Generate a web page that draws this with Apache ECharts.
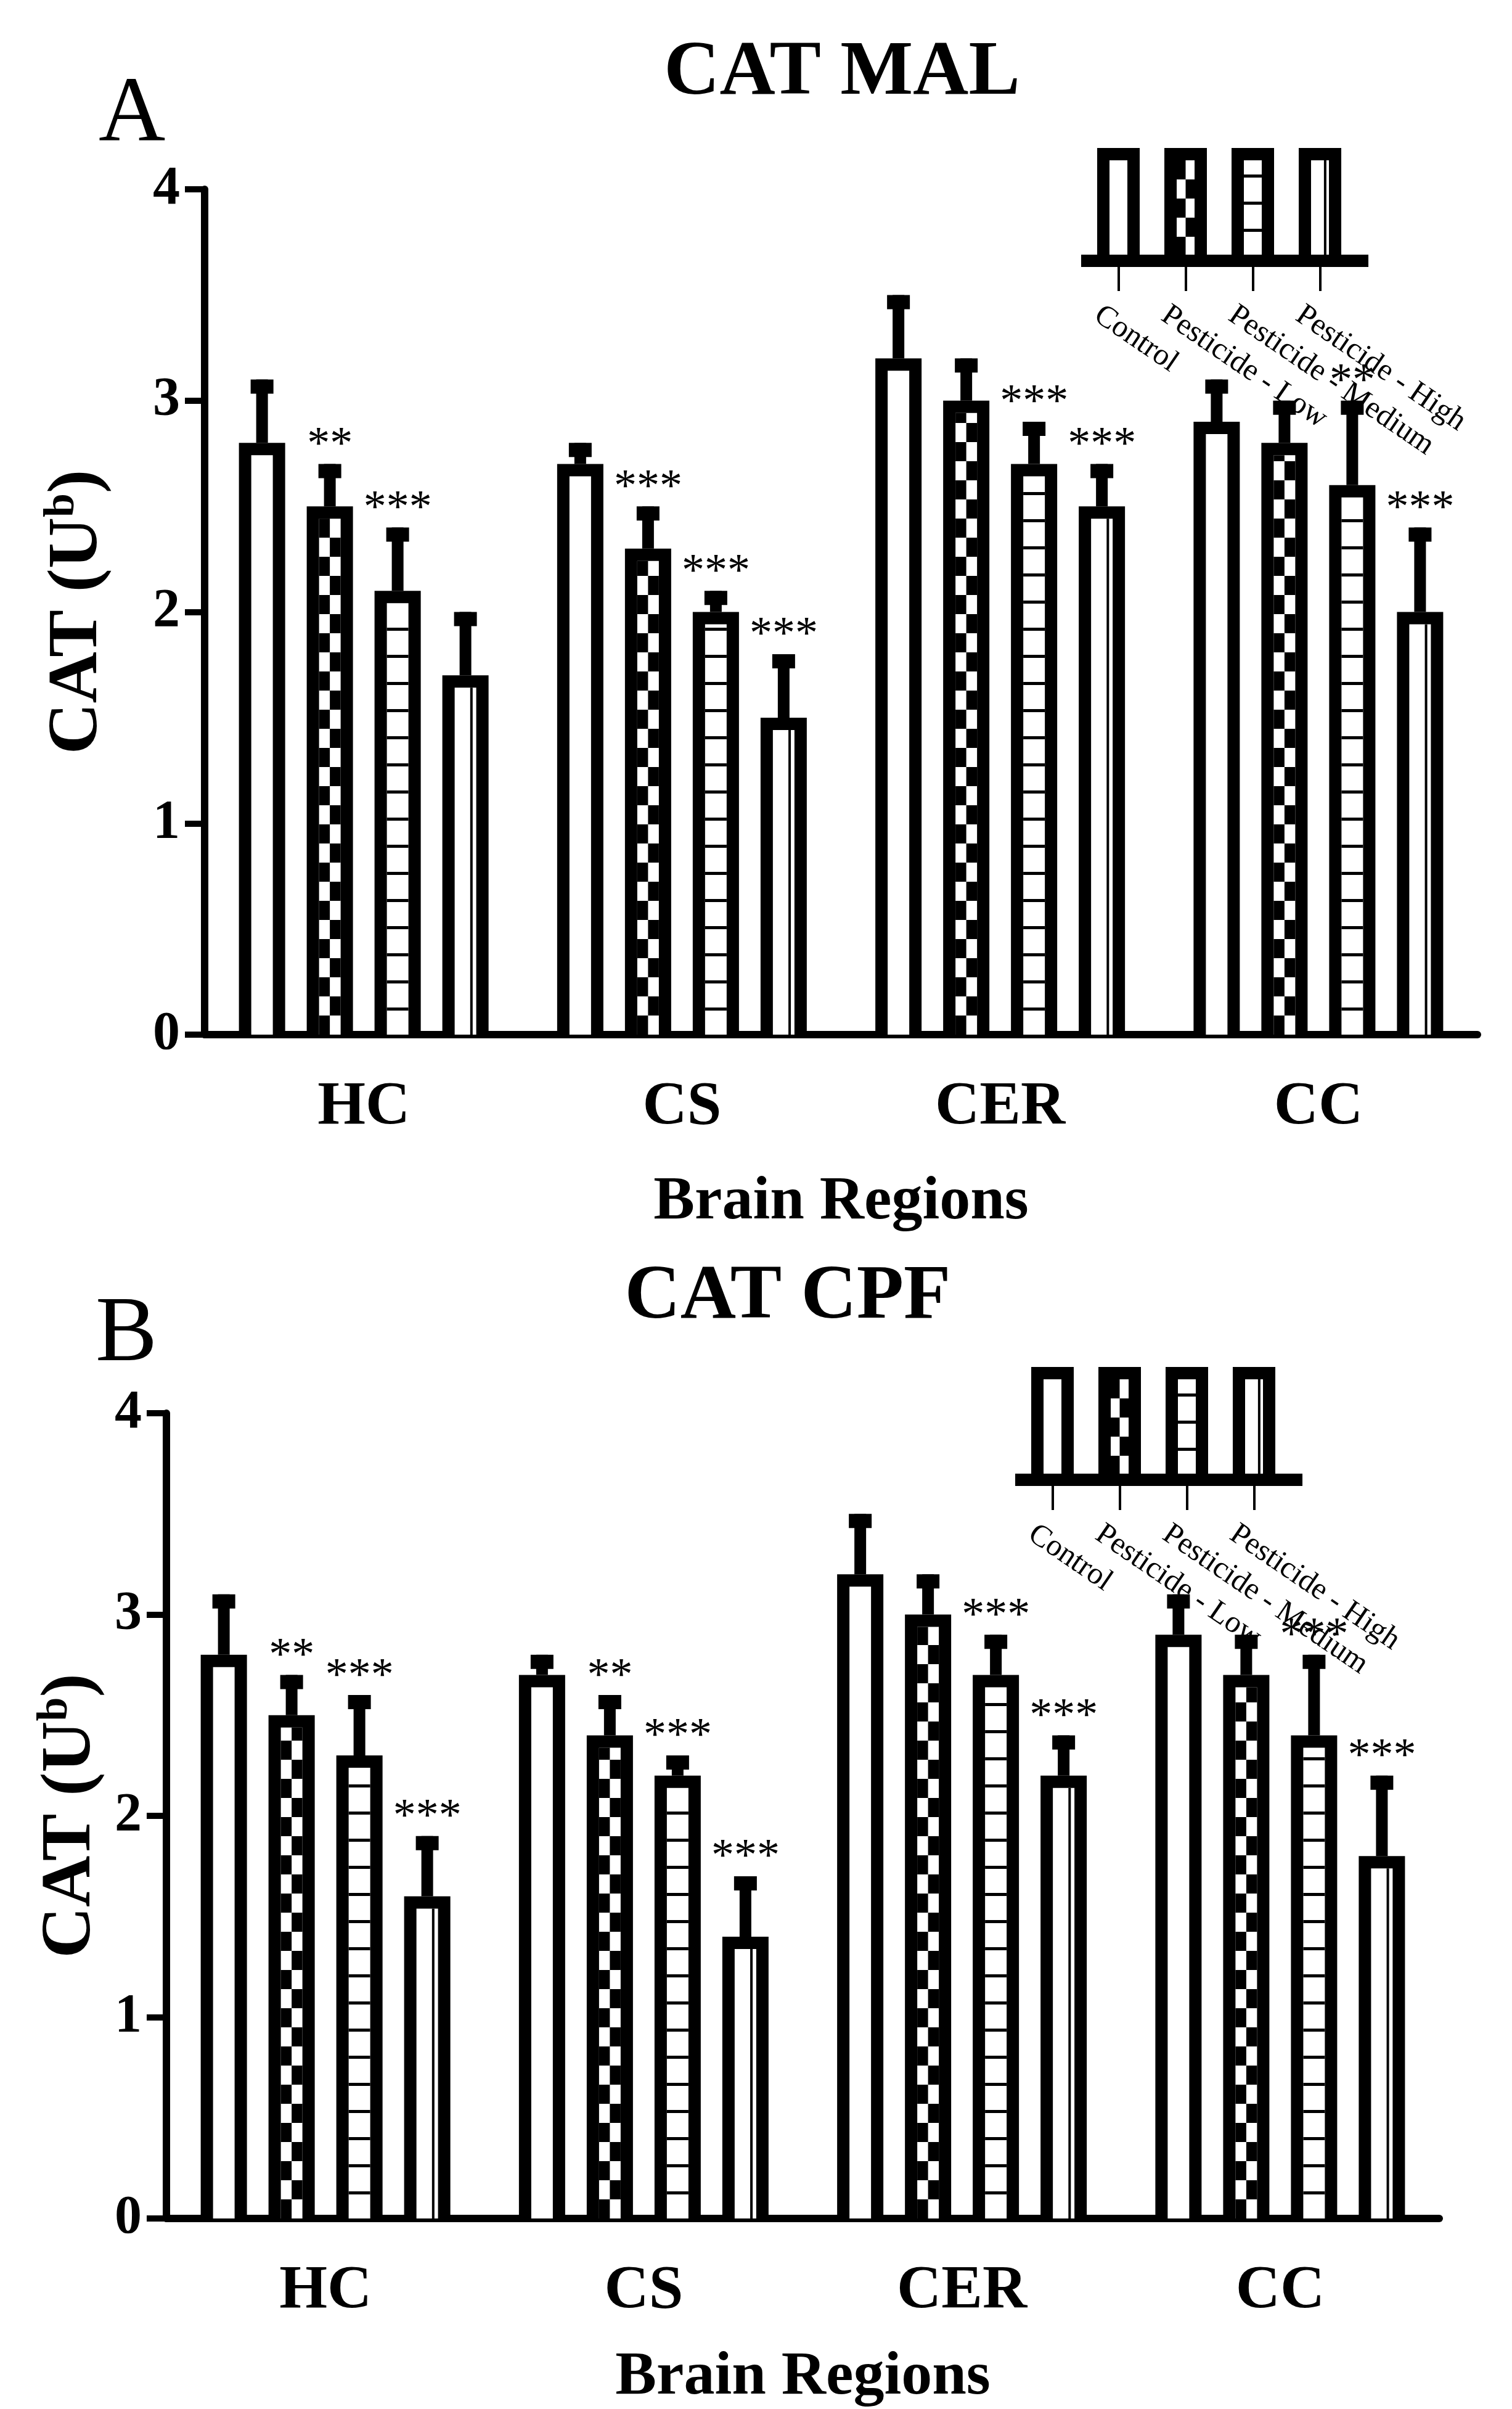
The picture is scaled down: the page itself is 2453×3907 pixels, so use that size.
<!DOCTYPE html>
<html>
<head>
<meta charset="utf-8">
<script src="https://cdn.jsdelivr.net/npm/echarts@6/dist/echarts.min.js"></script>
<style>html,body{margin:0;padding:0;background:#fff;}#c{width:2453px;height:3907px;}</style>
</head>
<body>
<div id="c"></div>
<script>
const regions = ['HC', 'CS', 'CER', 'CC'];
const groups = ['Control', 'Pesticide - Low', 'Pesticide - Medium', 'Pesticide - High'];
const yTicks = [0, 1, 2, 3, 4];

// Panel A - MAL (mean per group, listed per region)
const malControl = [2.8, 2.7, 3.2, 2.9];
const malLow = [2.5, 2.3, 3.0, 2.8];
const malMedium = [2.1, 2.0, 2.7, 2.6];
const malHigh = [1.7, 1.5, 2.5, 2.0];
const malErrControl = [0.3, 0.1, 0.3, 0.2];
const malErrLow = [0.2, 0.2, 0.2, 0.2];
const malErrMedium = [0.3, 0.1, 0.2, 0.4];
const malErrHigh = [0.3, 0.3, 0.2, 0.4];
const malSigControl = ['', '', '', ''];
const malSigLow = ['**', '***', '', ''];
const malSigMedium = ['***', '***', '***', '**'];
const malSigHigh = ['', '***', '***', '***'];

// Panel B - CPF
const cpfControl = [2.8, 2.7, 3.2, 2.9];
const cpfLow = [2.5, 2.4, 3.0, 2.7];
const cpfMedium = [2.3, 2.2, 2.7, 2.4];
const cpfHigh = [1.6, 1.4, 2.2, 1.8];
const cpfErrControl = [0.3, 0.1, 0.3, 0.2];
const cpfErrLow = [0.2, 0.2, 0.2, 0.2];
const cpfErrMedium = [0.3, 0.1, 0.2, 0.4];
const cpfErrHigh = [0.3, 0.3, 0.2, 0.4];
const cpfSigControl = ['', '', '', ''];
const cpfSigLow = ['**', '**', '', ''];
const cpfSigMedium = ['***', '***', '***', '***'];
const cpfSigHigh = ['***', '***', '***', '***'];

const FONT = 'Liberation Serif';
const BW = 75;      // bar width
const SP = 110;     // bar spacing inside a category
const BORD = 20;    // bar outline

// draws one patterned bar as a list of rects
function barShapes(x, yTop, yBot, w, b, kind) {
    const out = [];
    const h = yBot - yTop;
    out.push({type: 'rect', shape: {x: x, y: yTop, width: w, height: h}, style: {fill: '#000'}});
    const ix = x + b, iy = yTop + b, iw = w - 2 * b, ih = h - b;
    if (iw <= 0 || ih <= 0) return out;
    out.push({type: 'rect', shape: {x: ix, y: iy, width: iw, height: ih}, style: {fill: '#fff'}});
    if (kind === 1) { // checker
        const ch = 31, cw = iw / 2;
        let row = 0;
        for (let yy = yBot; yy > iy; yy -= ch, row++) {
            const top = Math.max(iy, yy - ch);
            out.push({type: 'rect', shape: {x: ix + (row % 2) * cw, y: top, width: cw, height: yy - top}, style: {fill: '#000'}});
        }
    } else if (kind === 2) { // horizontal lines
        for (let yy = yBot - 44; yy > iy; yy -= 44) {
            out.push({type: 'rect', shape: {x: ix, y: yy, width: iw, height: 5}, style: {fill: '#000'}});
        }
    } else if (kind === 3) { // one thin vertical line
        out.push({type: 'rect', shape: {x: ix + iw * 0.72, y: iy, width: 4, height: ih}, style: {fill: '#000'}});
    }
    return out;
}

function makeSeries(gridIdx, means, errs, sigs) {
    return means.map((m, g) => ({
        type: 'custom',
        name: groups[g],
        xAxisIndex: gridIdx,
        yAxisIndex: gridIdx,
        data: m.map((v, i) => [i, v, errs[g][i], sigs[g][i]]),
        renderItem: function (params, api) {
            const idx = api.value(0), v = api.value(1), e = api.value(2);
            const base = api.coord([idx, 0]);
            const top = api.coord([idx, v]);
            const et = api.coord([idx, v + e]);
            const cx = base[0] + (g - 1.5) * SP;
            const ch = barShapes(cx - BW / 2, top[1], base[1], BW, BORD, g);
            // error bar (upper only)
            ch.push({type: 'rect', shape: {x: cx - 9.5, y: et[1], width: 19, height: top[1] - et[1]}, style: {fill: '#000'}});
            ch.push({type: 'rect', shape: {x: cx - 18.5, y: et[1], width: 37, height: 23}, style: {fill: '#000'}});
            const sig = sigs[g][idx];
            if (sig) {
                ch.push({type: 'text', x: cx, y: et[1] + 8, style: {text: sig, fill: '#000', font: '74px "' + FONT + '"', align: 'center', verticalAlign: 'bottom'}});
            }
            return {type: 'group', children: ch};
        }
    }));
}

function legendGraphic(ox, oy) {
    const ch = [];
    const xs = [0, 109, 218, 327];
    xs.forEach((dx, g) => {
        barShapes(ox + dx, oy, oy + 175, 69, 20, g).forEach(s => ch.push(s));
        ch.push({type: 'rect', shape: {x: ox + dx + 33, y: oy + 190, width: 4, height: 42}, style: {fill: '#000'}});
        ch.push({type: 'text', x: ox + dx + 14, y: oy + 246, rotation: -0.6,
            style: {text: groups[g], fill: '#000', font: '50px "' + FONT + '"', align: 'left', verticalAlign: 'top'}});
    });
    ch.push({type: 'rect', shape: {x: ox - 26, y: oy + 173, width: 466, height: 20}, style: {fill: '#000'}});
    return {type: 'group', children: ch};
}

function xAxis(gi, gap) {
    return {
        type: 'category', gridIndex: gi, data: regions,
        axisLine: {lineStyle: {color: '#000', width: 12}},
        axisTick: {alignWithLabel: true, length: 24, lineStyle: {color: '#000', width: 10}},
        axisLabel: {color: '#000', fontFamily: FONT, fontWeight: 'bold', fontSize: 100, margin: 68},
        name: 'Brain Regions', nameLocation: 'middle', nameGap: gap,
        nameTextStyle: {color: '#000', fontFamily: FONT, fontWeight: 'bold', fontSize: 100}
    };
}
function yAxis(gi, gap) {
    return {
        type: 'value', gridIndex: gi, min: 0, max: 4, interval: 1,
        splitLine: {show: false},
        axisLine: {show: true, lineStyle: {color: '#000', width: 12}},
        axisTick: {show: true, length: 32, lineStyle: {color: '#000', width: 10}},
        axisLabel: {color: '#000', fontFamily: FONT, fontWeight: 'bold', fontSize: 88, margin: 40,
            formatter: v => yTicks.includes(v) ? String(v) : ''},
        name: 'CAT (U{s|b})', nameLocation: 'middle', nameGap: gap,
        nameTextStyle: {color: '#000', fontFamily: FONT, fontWeight: 'bold', fontSize: 115,
            rich: {s: {fontFamily: FONT, fontWeight: 'bold', fontSize: 70, verticalAlign: 'top', padding: [0, 0, 50, 0]}}}
    };
}

const chart = echarts.init(document.getElementById('c'));
chart.setOption({
    backgroundColor: '#fff',
    animation: false,
    title: [
        {text: 'CAT MAL', left: 1361, top: 52, textAlign: 'center', textStyle: {fontFamily: FONT, fontWeight: 'bold', fontSize: 125, color: '#000'}},
        {text: 'A', left: 155, top: 108, textStyle: {fontFamily: FONT, fontWeight: 'normal', fontSize: 150, color: '#000'}},
        {text: 'CAT CPF', left: 1273, top: 2037, textAlign: 'center', textStyle: {fontFamily: FONT, fontWeight: 'bold', fontSize: 125, color: '#000'}},
        {text: 'B', left: 150, top: 2087, textStyle: {fontFamily: FONT, fontWeight: 'normal', fontSize: 150, color: '#000'}}
    ],
    grid: [
        {left: 332, top: 307, width: 2065, height: 1371},
        {left: 270, top: 2292, width: 2065, height: 1309}
    ],
    xAxis: [xAxis(0, 222), xAxis(1, 208)],
    yAxis: [yAxis(0, 146), yAxis(1, 95)],
    graphic: [legendGraphic(1780, 240), legendGraphic(1673, 2217)],
    series: [].concat(
        makeSeries(0, [malControl, malLow, malMedium, malHigh], [malErrControl, malErrLow, malErrMedium, malErrHigh], [malSigControl, malSigLow, malSigMedium, malSigHigh]),
        makeSeries(1, [cpfControl, cpfLow, cpfMedium, cpfHigh], [cpfErrControl, cpfErrLow, cpfErrMedium, cpfErrHigh], [cpfSigControl, cpfSigLow, cpfSigMedium, cpfSigHigh])
    )
});
</script>
</body>
</html>
